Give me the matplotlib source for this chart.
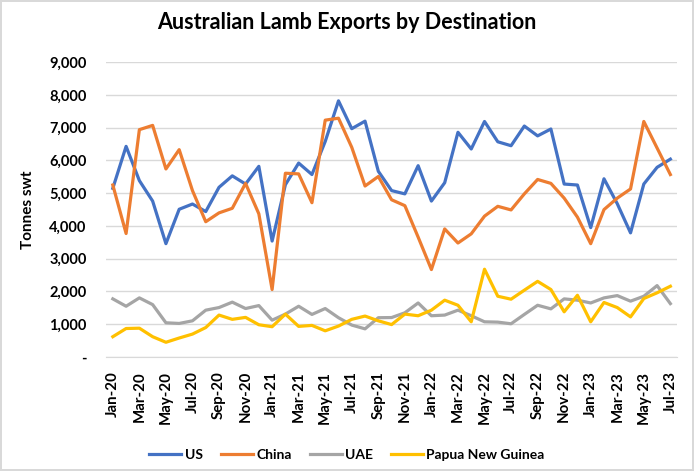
import matplotlib.pyplot as plt
import numpy as np

plt.rcParams['font.family'] = ['Lato', 'DejaVu Sans']

months = ['Jan', 'Feb', 'Mar', 'Apr', 'May', 'Jun', 'Jul', 'Aug', 'Sep', 'Oct', 'Nov', 'Dec']
labels = [f'{m}-{y}' for y in ['20', '21', '22', '23'] for m in months][:43]

us = [5150, 6430, 5385, 4760, 3460, 4510, 4670, 4440, 5180, 5530, 5280, 5820,
      3540, 5260, 5920, 5570, 6580, 7820, 6970, 7200, 5670, 5080, 4980, 5840,
      4760, 5320, 6860, 6350, 7190, 6570, 6450, 7050, 6750, 6960, 5280, 5250,
      3950, 5440, 4680, 3790, 5280, 5790, 6040]
china = [5250, 3770, 6940, 7070, 5740, 6330, 5080, 4130, 4400, 4540, 5300, 4370,
         2060, 5610, 5590, 4710, 7230, 7290, 6400, 5220, 5510, 4800, 4620, 3660,
         2670, 3910, 3480, 3760, 4300, 4600, 4490, 4980, 5420, 5300, 4850, 4270,
         3460, 4500, 4850, 5130, 7190, 6380, 5570]
uae = [1775, 1550, 1805, 1600, 1045, 1025, 1105, 1430, 1510, 1675, 1480, 1570,
       1125, 1310, 1550, 1300, 1480, 1200, 975, 860, 1200, 1205, 1350, 1650,
       1260, 1280, 1430, 1260, 1075, 1065, 1015, 1300, 1580, 1470, 1775, 1735,
       1650, 1805, 1875, 1705, 1855, 2180, 1630]
png = [620, 870, 880, 620, 450, 580, 700, 900, 1280, 1150, 1210, 985,
       925, 1310, 935, 965, 800, 945, 1150, 1250, 1105, 990, 1310, 1260,
       1430, 1735, 1580, 1075, 2680, 1855, 1765, 2040, 2310, 2060, 1380, 1885,
       1075, 1665, 1510, 1225, 1785, 1960, 2160]

fig = plt.figure(figsize=(6.94, 4.71), dpi=100)
fig.patch.set_edgecolor('#D9D9D9')
fig.patch.set_linewidth(1.5)
ax = fig.add_axes([0.153, 0.242, 0.8225, 0.626])

x = np.arange(len(labels))
ax.plot(x, us, color='#4472C4', lw=2.3, label='US')
ax.plot(x, china, color='#ED7D31', lw=2.3, label='China')
ax.plot(x, uae, color='#A5A5A5', lw=2.3, label='UAE')
ax.plot(x, png, color='#FFC000', lw=2.3, label='Papua New Guinea')

ax.set_xlim(-0.5, len(labels) - 0.5)
ax.set_ylim(0, 9000)
yt = np.arange(0, 9001, 1000)
ax.set_yticks(yt)
ax.set_yticklabels(['-'] + [f'{v:,}' for v in yt[1:]], fontsize=10.5, fontweight='bold')
ax.set_xticks(x[::2])
ax.set_xticklabels(labels[::2], rotation=90, fontsize=10.8, fontweight='bold')
ax.tick_params(length=0)
ax.tick_params(axis='x', pad=10)
ax.tick_params(axis='y', pad=14)
ax.grid(axis='y', color='#D9D9D9', lw=1)
ax.set_axisbelow(True)
for s in ['top', 'right', 'left']:
    ax.spines[s].set_visible(False)
ax.spines['bottom'].set_color('#D9D9D9')

ax.set_ylabel('Tonnes swt', fontsize=11, fontweight='bold', labelpad=10)
fig.text(0.5, 0.953, 'Australian Lamb Exports by Destination', ha='center', va='center',
         fontsize=15.5, fontweight='bold')
fig.legend(loc='center', bbox_to_anchor=(0.5, 0.035), ncol=4, frameon=False,
           prop={'size': 10, 'weight': 'bold'}, handlelength=2.3, columnspacing=1.3,
           handletextpad=0.25)

fig.savefig('out.png', dpi=100)
